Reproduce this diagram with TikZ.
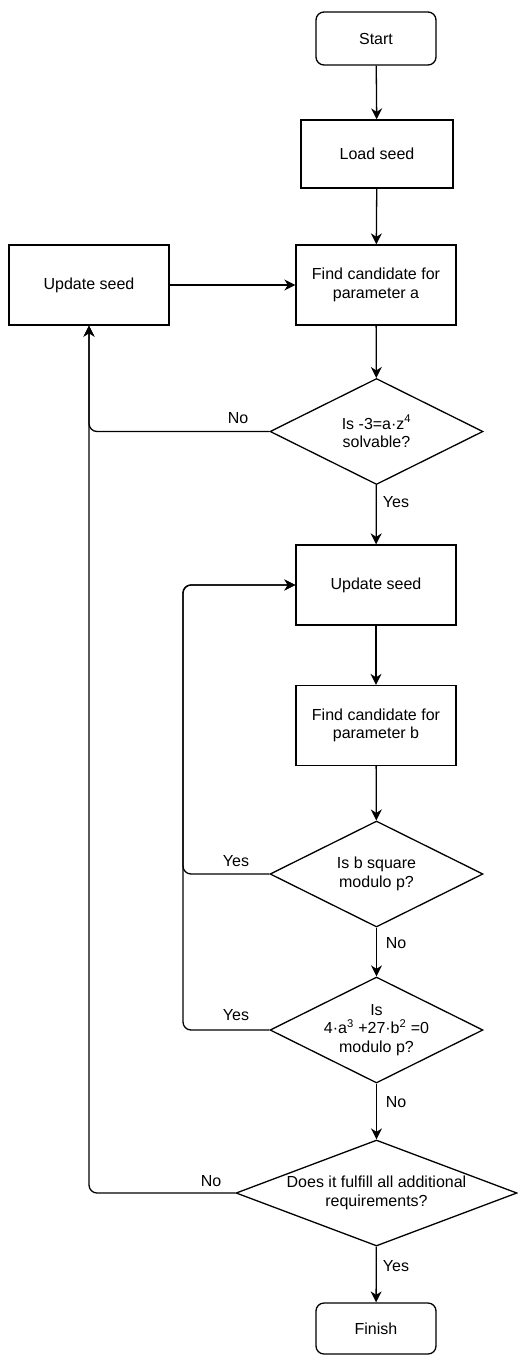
\documentclass[tikz,border=0pt]{standalone}
\usepackage{fontspec}
\setmainfont{Liberation Sans}
\usetikzlibrary{shapes.geometric,arrows.meta}
\begin{document}
\begin{tikzpicture}[x=1pt,y=-1pt,
  every node/.style={font=\fontsize{16}{18.5}\selectfont},
  stepbox/.style={draw, line width=1.3pt, rectangle, minimum width=160pt, minimum height=80pt, align=center, inner sep=0pt},
  term/.style={draw, line width=1.3pt, rectangle, rounded corners=8pt, minimum width=120pt, minimum height=53pt, align=center, inner sep=0pt},
  decide/.style={draw, line width=1.3pt, diamond, minimum width=213pt, minimum height=106pt, inner sep=0pt},
  lbl/.style={inner sep=0pt},
  arr/.style={line width=1.3pt, -{Stealth[length=11pt,width=11pt,inset=3.5pt]}, rounded corners=8pt}
]
\useasboundingbox (0,0) rectangle (518,1355);

\node[term] (start) at (376,38.5) {Start};
\node[stepbox, minimum width=152pt, minimum height=68pt] (load) at (377,154) {Load seed};
\node[stepbox] (finda) at (376,285) {Find candidate for\\parameter a};
\node[stepbox] (upd1) at (89,285) {Update seed};
\node[decide, label={[align=center]center:Is -3=a·z\textsuperscript{4}\\solvable?}] (d1) at (376.5,431.5) {};
\node[stepbox] (upd2) at (376,585) {Update seed};
\node[stepbox] (findb) at (376,725.5) {Find candidate for\\parameter b};
\node[decide, label={[align=center]center:Is b square\\modulo p?}] (d2) at (376.5,874) {};
\node[decide, label={[align=center]center:Is\\4·a\textsuperscript{3} +27·b\textsuperscript{2} =0\\modulo p?}] (d3) at (376.5,1030) {};
\node[decide, minimum width=281pt, label={[align=center]center:Does it fulfill all additional\\requirements?}] (d4) at (376.5,1193) {};
\node[term, minimum height=51pt] (finish) at (376,1328.5) {Finish};

\coordinate (loopx) at (183,585);

\draw[arr] (start) -- (load);
\draw[arr] (load) -- (finda);
\draw[arr] (upd1) -- (finda);
\draw[arr] (finda) -- (d1);
\draw[arr] (d1.west) -| (upd1.south);
\draw[arr] (d1) -- (upd2);
\draw[arr] (upd2) -- (findb);
\draw[arr] (findb) -- (d2);
\draw[arr] (d2.west) -| (loopx) -- (upd2.west);
\draw[arr] (d2) -- (d3);
\draw[arr] (d3.west) -| (loopx) -- (upd2.west);
\draw[arr] (d3) -- (d4);
\draw[arr] (d4.west) -| (upd1.south);
\draw[arr] (d4) -- (finish);

\node[lbl] (l1) at (238,418) {No};
\node[lbl] (l2) at (396,502) {Yes};
\node[lbl] (l3) at (236,861) {Yes};
\node[lbl] (l4) at (396,943) {No};
\node[lbl] (l5) at (236,1015) {Yes};
\node[lbl] (l6) at (396,1102) {No};
\node[lbl] (l7) at (211,1181) {No};
\node[lbl] (l8) at (396,1266) {Yes};
\end{tikzpicture}
\end{document}
